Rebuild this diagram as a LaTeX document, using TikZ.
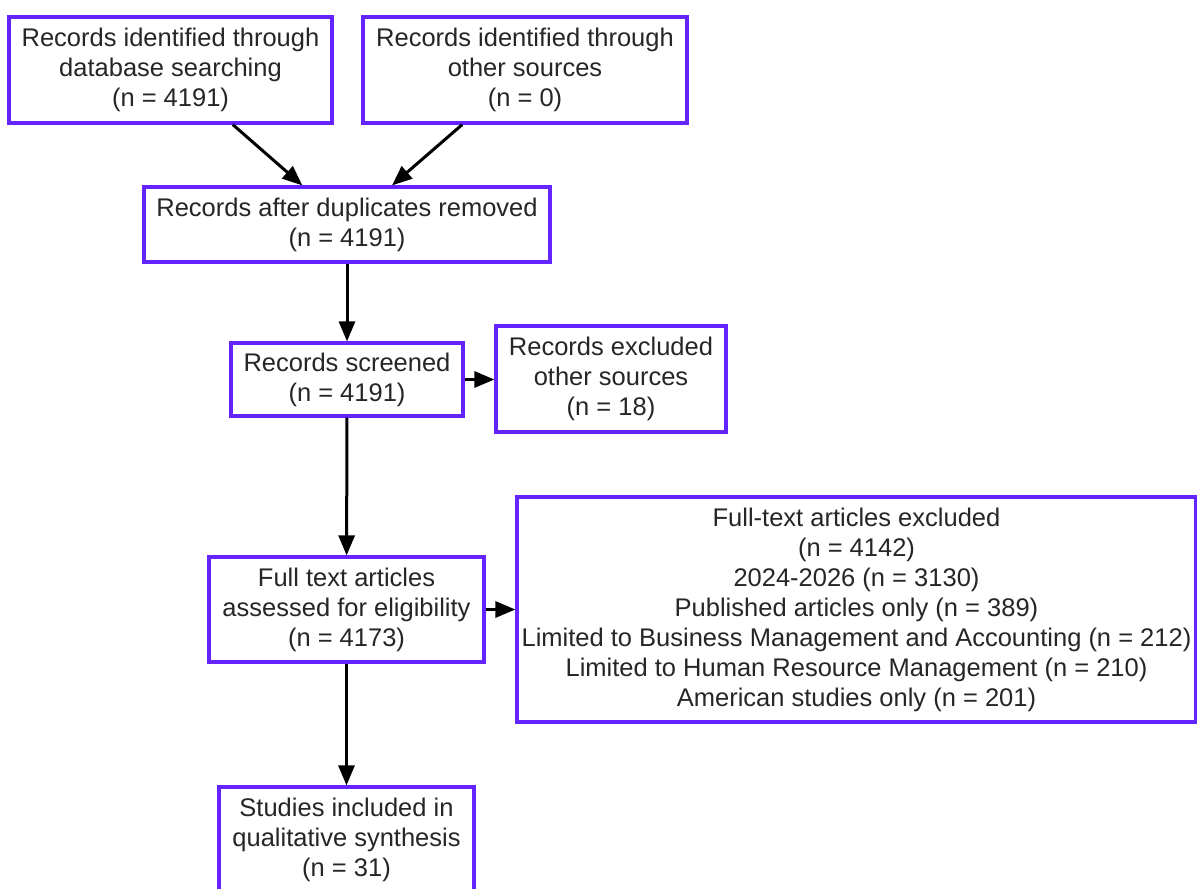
\documentclass[tikz,border=0pt]{standalone}
\usepackage{fontspec}
\setmainfont{Liberation Sans}
\usetikzlibrary{arrows.meta}
\definecolor{boxc}{RGB}{100,36,255}
\begin{document}
\begin{tikzpicture}[x=1pt,y=-1pt,
  box/.style={draw=boxc, line width=3.2pt, rectangle, inner sep=0pt, align=center,
    font=\fontsize{25.5pt}{30pt}\selectfont, text=black!85},
  arr/.style={line width=3pt, -{Triangle[length=20pt,width=16pt]}}]
\useasboundingbox[fill=white] (0,0) rectangle (1197,889);
\node[box, minimum width=323pt, minimum height=106pt] (b1) at (170.5,70) {Records identified through\\database searching\\(n = 4191)};
\node[box, minimum width=324pt, minimum height=106pt] (b2) at (525,70) {Records identified through\\other sources\\(n = 0)};
\node[box, minimum width=406pt, minimum height=75pt] (dup) at (347,224.5) {Records after duplicates removed\\(n = 4191)};
\node[box, minimum width=232pt, minimum height=73pt] (scr) at (347,379.5) {Records screened\\(n = 4191)};
\node[box, minimum width=230pt, minimum height=106pt] (exc) at (611,379) {Records excluded\\other sources\\(n = 18)};
\node[box, minimum width=275pt, minimum height=105pt] (ft) at (346.5,609.5) {Full text articles\\assessed for eligibility\\(n = 4173)};
\node[box, minimum width=679pt, minimum height=225pt] (ftx) at (856.5,609.5) {Full-text articles excluded\\(n = 4142)\\2024-2026 (n = 3130)\\Published articles only (n = 389)\\Limited to Business Management and Accounting (n = 212)\\Limited to Human Resource Management (n = 210)\\American studies only (n = 201)};
\node[box, minimum width=255pt, minimum height=106pt] (inc) at (346.5,840) {Studies included in\\qualitative synthesis\\(n = 31)};
\draw[arr] (b1) -- (dup);
\draw[arr] (b2) -- (dup);
\draw[arr] (dup) -- (scr);
\draw[arr] (scr.east) -- (scr.east -| exc.west);
\draw[arr] (scr) -- (ft);
\draw[arr] (ft.east) -- (ft.east -| ftx.west);
\draw[arr] (ft) -- (inc);
\end{tikzpicture}
\end{document}
